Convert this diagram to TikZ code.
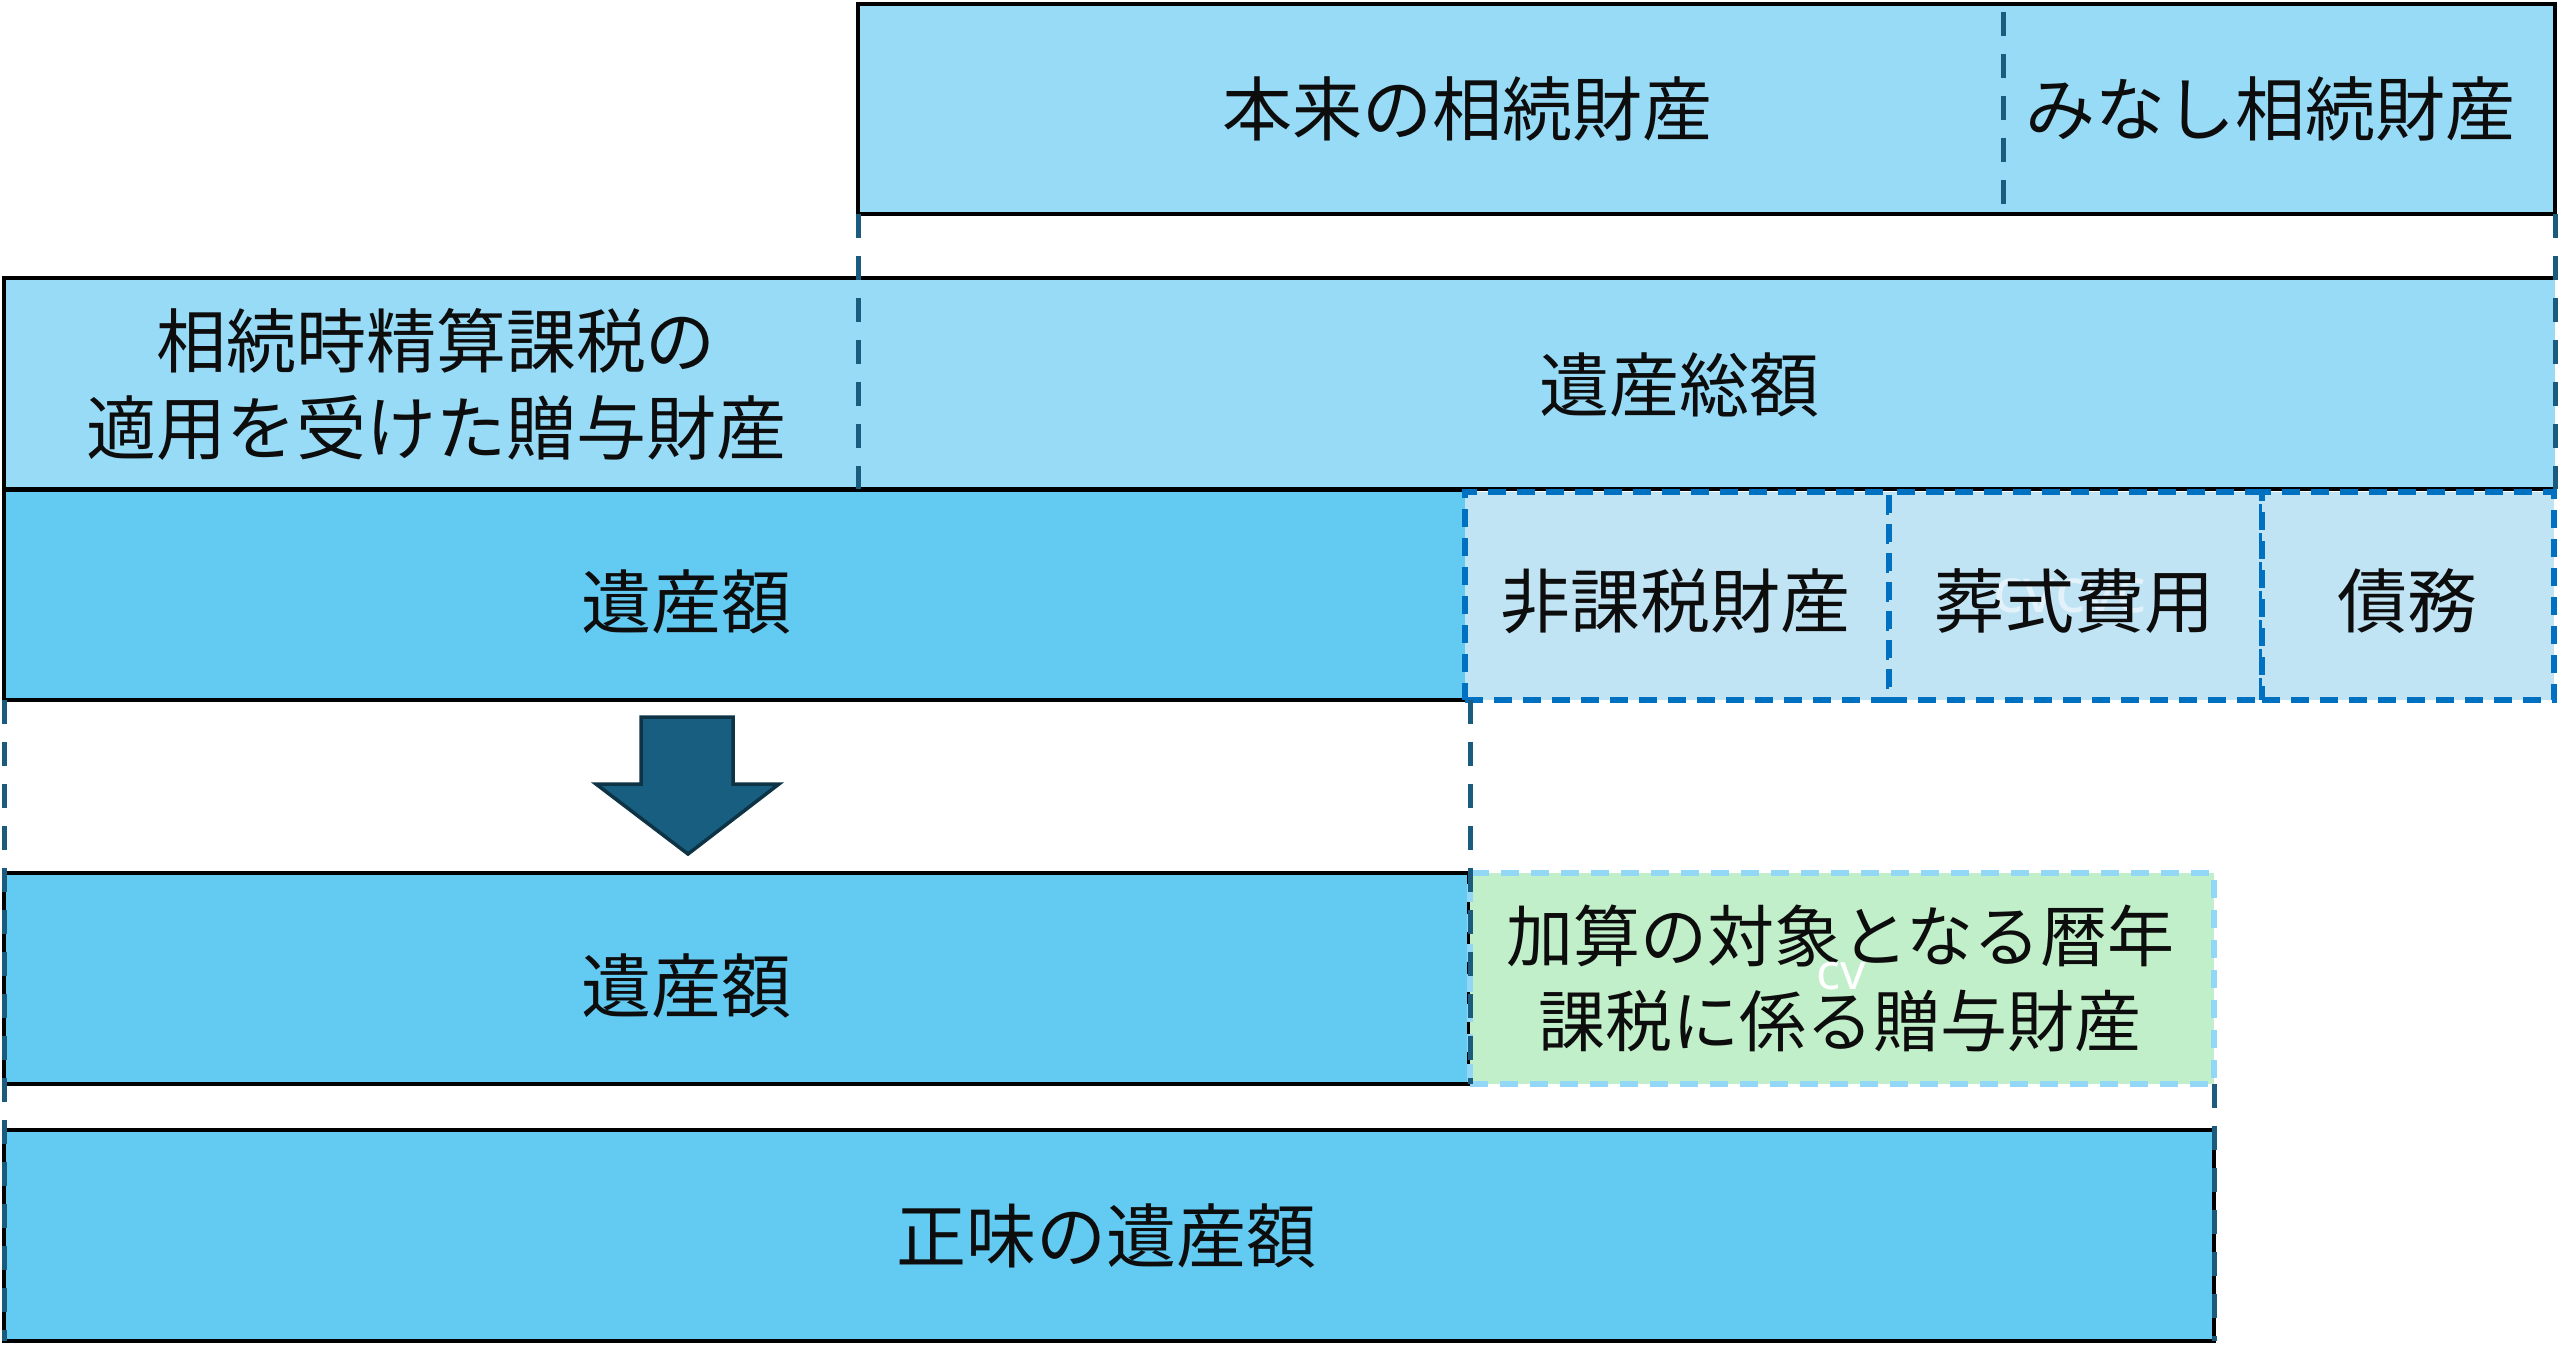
\documentclass[tikz,border=0pt]{standalone}
\usepackage{fontspec}
\setmainfont{Noto Sans CJK JP}
\newfontfamily\latinfont{Noto Sans}
\definecolor{lightblue}{HTML}{98DBF7}
\definecolor{midblue}{HTML}{63CAF2}
\definecolor{paleblue}{HTML}{C1E4F5}
\definecolor{dashblue}{HTML}{0070C0}
\definecolor{palegreen}{HTML}{C1EFCA}
\definecolor{greenedge}{HTML}{92D7F5}
\definecolor{guideblue}{HTML}{1B5C7E}
\definecolor{arrowfill}{HTML}{175E80}
\definecolor{arrowedge}{HTML}{0D3345}
\definecolor{textblack}{HTML}{0D0D0D}
\begin{document}
\begin{tikzpicture}[x=1pt,y=-1pt,
  cell/.style={inner sep=0pt, outer sep=0pt, anchor=north west},
  light/.style={cell, fill=lightblue},
  mid/.style={cell, fill=midblue},
  border/.style={draw=black, line width=4pt},
  guide/.style={draw=guideblue, line width=5pt, dash pattern=on 24pt off 18pt},
  dbox/.style={cell, fill=paleblue, draw=dashblue, line width=6pt, dash pattern=on 18pt off 11pt},
  gbox/.style={cell, fill=palegreen, draw=greenedge, line width=6pt, dash pattern=on 18pt off 12pt},
  lbl/.style={font=\fontsize{70}{87}\selectfont, text=textblack, align=center, inner sep=0pt},
  ghost/.style={font=\latinfont\fontsize{50}{50}\selectfont, text=white, inner sep=0pt},
  blockarrow/.style={fill=arrowfill, draw=arrowedge, line width=3.5pt, line join=miter}
]
\useasboundingbox[fill=white] (0,0) rectangle (2560,1345);

% row 1
\node[light, border, minimum width=1697pt, minimum height=210pt] (orig) at (858,4) {};
% row 2
\node[light, minimum width=854pt, minimum height=211pt] (lgift) at (4,278) {};
\node[light, minimum width=1697pt, minimum height=211pt] (gross) at (858,278) {};
\draw[border] (gross.north east) -- (lgift.north west) -- (lgift.south west) -- (gross.south east);
% row 3
\node[mid, border, minimum width=1463pt, minimum height=210pt] (est1) at (4,490) {};
\node[dbox, minimum width=424pt, minimum height=208pt] (nontax) at (1465,492) {};
\node[dbox, minimum width=373pt, minimum height=208pt] (funeral) at (1889,492) {};
\node[dbox, minimum width=292pt, minimum height=208pt] (debt) at (2262,492) {};
% row 4
\node[mid, border, minimum width=1465pt, minimum height=211pt] (est2) at (4,873) {};
\node[gbox, minimum width=744pt, minimum height=211pt] (gift) at (1470,873) {};
% row 5
\node[mid, border, minimum width=2210pt, minimum height=211pt] (net) at (4,1130) {};

% guides
\coordinate (dvtop) at (2003,12);
\coordinate (dvbot) at (2003,208);
\draw[guide] (dvtop) -- (dvbot);
\draw[guide] (orig.south west) -- (lgift.south east);
\draw[guide] (orig.south east) -- (gross.south east);
\draw[guide] (est1.south west) -- (net.south west);
\draw[guide] (gift.north west |- est1.south) -- (gift.south west);
\draw[guide] (gift.south east) -- (net.south east);

% arrow
\draw[blockarrow] (641,717) -- (733,717) -- (733,784) -- (779,784) -- (688,854) -- (596,784) -- (641,784) -- cycle;

% faint artefact texts
\node[ghost, font=\latinfont\fontsize{62}{62}\selectfont, text opacity=0.55] (g1) at (2070,596) {cvcvc};

% labels
\node[lbl] (t1) at (1467,109) {本来の相続財産};
\node[lbl] (t2) at (2270,109) {みなし相続財産};
\node[lbl] (t3) at (436,384) {相続時精算課税の\\適用を受けた贈与財産};
\node[lbl] (t4) at (1679,385) {遺産総額};
\node[lbl] (t5) at (686,602) {遺産額};
\node[lbl] (t6) at (1675,601) {非課税財産};
\node[lbl] (t7) at (2074,601) {葬式費用};
\node[lbl] (t8) at (2407,601) {債務};
\node[lbl] (t9) at (686,986) {遺産額};
\node[lbl, font=\fontsize{67}{85}\selectfont] (t10) at (1840,978) {加算の対象となる暦年\\課税に係る贈与財産};
\node[ghost] (g2) at (1841,976) {cv};
\node[lbl] (t11) at (1106,1236) {正味の遺産額};
\end{tikzpicture}
\end{document}
